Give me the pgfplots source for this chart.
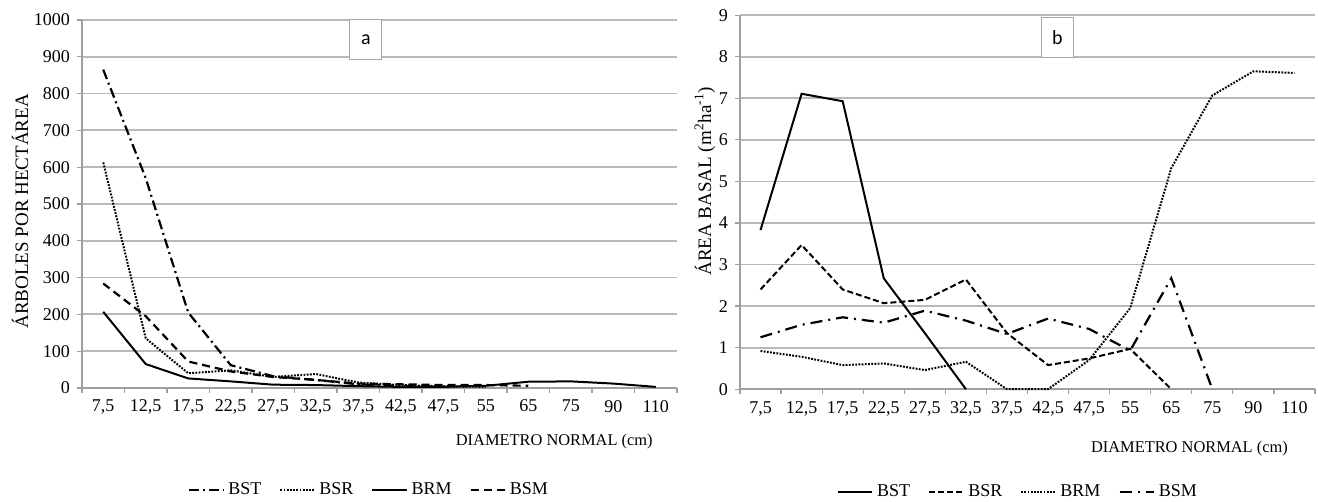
\documentclass[border=0pt]{standalone}
\usepackage{fontspec}
\setmainfont{Liberation Serif}
\newfontfamily\boxfont{Carlito}
\usepackage{pgfplots}
\pgfplotsset{compat=1.18}

% shared look of both panels (Excel-like)
\pgfplotsset{
  panel/.style={
    scale only axis,
    axis lines*=left,
    axis line style={draw=gray!75, line width=0.8pt},
    xmin=-0.5, xmax=13.5, ymin=0,
    xtick={0,...,13},
    xticklabels={{7,5},{12,5},{17,5},{22,5},{27,5},{32,5},{37,5},{42,5},{47,5},55,65,75,90,110},
    major x tick style={draw=none},
    minor xtick={-0.5,0.5,...,13.5},
    tick align=outside,
    major tick length=2.5pt, minor tick length=2.5pt,
    tick style={draw=gray!75, line width=0.6pt},
    ymajorgrids,
    grid style={draw=gray!55, line width=0.9pt},
    ticklabel style={font=\fontsize{9}{10}\selectfont},
    /pgf/number format/assume math mode=true,
    /pgf/number format/1000 sep={},
    clip=false,
    legend columns=4,
    legend style={draw=none, fill=none, font=\fontsize{9}{10}\selectfont,
      /tikz/every even column/.append style={column sep=7pt}},
    label style={font=\fontsize{9.5}{11}\selectfont},
  },
  pline/.style={black, line width=1pt},
}

\begin{document}
\begin{tikzpicture}
\useasboundingbox (0,0) rectangle (659pt,-251pt);

% ---- panel a ----
\begin{axis}[panel,
  at={(41pt,-194pt)}, anchor=south west,
  width=297.5pt, height=184pt,
  ymax=1000, ytick={0,100,...,1000},
  ylabel={ÁRBOLES POR HECTÁREA},
  ylabel style={at={(axis description cs:-0.104,0.48)}, anchor=center},
  xlabel={DIAMETRO NORMAL (cm)},
  xlabel style={at={(axis description cs:0.971,-0.146)}, anchor=east, font=\fontsize{8.2}{9}\selectfont},
  legend style={at={(axis description cs:0.484,-0.277)}, anchor=center},
]
\addplot[pline, line width=1.1pt, dash pattern=on 5pt off 2pt on 1pt off 2pt]
  coordinates {(0,865)(1,570)(2,205)(3,62)(4,32)(5,22)(6,10)(7,6)(8,3)};
\addplot[pline, dash pattern=on 0.9pt off 0.7pt]
  coordinates {(0,613)(1,135)(2,40)(3,48)(4,30)(5,38)(6,15)(7,8)(8,5)(9,3)};
\addplot[pline]
  coordinates {(0,207)(1,65)(2,26)(3,18)(4,9)(5,8)(6,5)(7,3)(8,3)(9,6)(10,17)(11,18)(12,12)(13,3)};
\addplot[pline, line width=1.1pt, dash pattern=on 4pt off 2.5pt]
  coordinates {(0,284)(1,195)(2,72)(3,45)(4,30)(5,22)(6,12)(7,10)(8,8)(9,8)(10,6)};
\legend{BST,BSR,BRM,BSM}
\node[draw=gray!70, fill=white, minimum width=16pt, minimum height=20pt, inner sep=0pt,
  font=\boxfont\fontsize{10}{12}\selectfont] at (axis description cs:0.477,0.946) {a};
\end{axis}

% ---- panel b ----
\begin{axis}[panel,
  at={(370pt,-194.6pt)}, anchor=south west,
  width=287.5pt, height=187pt,
  ymax=9, ytick={0,1,...,9},
  ylabel={ÁREA BASAL (m\textsuperscript{2}ha\textsuperscript{-1})},
  ylabel style={at={(axis description cs:-0.061,0.556)}, anchor=center},
  xlabel={DIAMETRO NORMAL (cm)},
  xlabel style={at={(axis description cs:0.965,-0.158)}, anchor=east, font=\fontsize{8.2}{9}\selectfont},
  legend style={at={(axis description cs:0.485,-0.275)}, anchor=center},
]
\addplot[pline]
  coordinates {(0,3.83)(1,7.11)(2,6.93)(3,2.67)(4,1.35)(5,0)};
\addplot[pline, dash pattern=on 3pt off 1.5pt]
  coordinates {(0,2.40)(1,3.47)(2,2.40)(3,2.07)(4,2.15)(5,2.64)(6,1.35)(7,0.58)(8,0.74)(9,0.97)(10,0)};
\addplot[pline, dash pattern=on 0.9pt off 0.7pt]
  coordinates {(0,0.92)(1,0.78)(2,0.58)(3,0.62)(4,0.46)(5,0.66)(6,0)(7,0)(8,0.70)(9,1.95)(10,5.32)(11,7.07)(12,7.65)(13,7.61)};
\addplot[pline, line width=1.1pt, dash pattern=on 6pt off 3pt on 1pt off 3pt]
  coordinates {(0,1.25)(1,1.55)(2,1.73)(3,1.60)(4,1.89)(5,1.65)(6,1.33)(7,1.70)(8,1.45)(9,0.93)(10,2.67)(11,0)};
\legend{BST,BSR,BRM,BSM}
\node[draw=gray!70, fill=white, minimum width=16pt, minimum height=20pt, inner sep=0pt,
  font=\boxfont\fontsize{10}{12}\selectfont] at (axis description cs:0.552,0.94) {b};
\end{axis}
\end{tikzpicture}
\end{document}
